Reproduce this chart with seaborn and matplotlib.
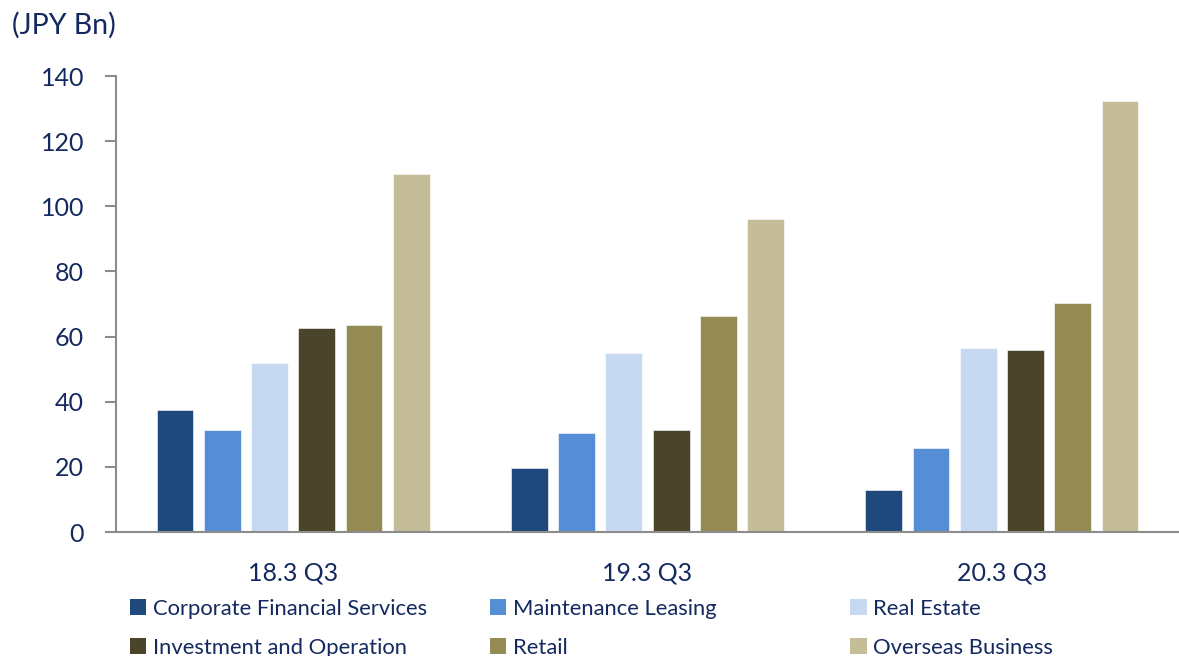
import matplotlib
matplotlib.use("Agg")
import matplotlib.pyplot as plt
from matplotlib.patches import Patch
import seaborn as sns
import pandas as pd

periods = ["18.3 Q3", "19.3 Q3", "20.3 Q3"]
segments = ["Corporate Financial Services", "Maintenance Leasing", "Real Estate",
            "Investment and Operation", "Retail", "Overseas Business"]
corporate = [37.6, 19.8, 13.0]
maintenance = [31.4, 30.3, 25.9]
real_estate = [51.9, 54.9, 56.5]
investment = [62.6, 31.4, 56.0]
retail = [63.6, 66.4, 70.4]
overseas = [109.9, 96.1, 132.2]

colors = ["#1F497D", "#558ED5", "#C6D9F1", "#4A452A", "#948A54", "#C4BD97"]
text_color = "#13295F"
axis_color = "#8C8C8C"

series = [corporate, maintenance, real_estate, investment, retail, overseas]
df = pd.DataFrame(
    [(p, s, v[i]) for s, v in zip(segments, series) for i, p in enumerate(periods)],
    columns=["period", "segment", "value"],
)

sns.set_theme(style="white")
plt.rcParams["font.family"] = ["Lato", "DejaVu Sans"]

fig = plt.figure(figsize=(11.79, 6.56), dpi=100)
ax = fig.add_axes([0.0984, 0.189, 0.9016, 0.695])

sns.barplot(data=df, x="period", y="value", hue="segment", order=periods,
            hue_order=segments, palette=colors, width=0.8, gap=0.22,
            saturation=1, legend=False, ax=ax, edgecolor="white", linewidth=0.4)

ax.set_ylim(0, 140)
ax.set_xlim(-0.5, 2.5)
ax.set_yticks(range(0, 141, 20))
ax.set_xlabel("")
ax.set_ylabel("")
for side in ["top", "right"]:
    ax.spines[side].set_visible(False)
for side in ["left", "bottom"]:
    ax.spines[side].set_color(axis_color)
    ax.spines[side].set_linewidth(1.5)
ax.tick_params(axis="y", which="both", left=True, length=8, width=1.5,
               color=axis_color, labelsize=18, labelcolor=text_color, pad=15)
ax.tick_params(axis="x", bottom=False, labelsize=18, labelcolor=text_color, pad=15)

fig.text(0.010, 0.962, "(JPY Bn)", fontsize=20.5, color=text_color, va="center", ha="left")

# three legend columns, two entries each
columns = [(0, 3), (1, 4), (2, 5)]
xs = [0.110, 0.4156, 0.721]
for (a, b), x in zip(columns, xs):
    handles = [Patch(facecolor=colors[k], edgecolor="none", label=segments[k]) for k in (a, b)]
    fig.legend(handles=handles, loc="upper left", bbox_to_anchor=(x, 0.087),
               frameon=False, fontsize=15.8, labelcolor=text_color,
               handlelength=0.75, handleheight=0.75, handletextpad=0.3,
               labelspacing=0.86, borderpad=0, borderaxespad=0)

fig.savefig("out.png", dpi=100)
